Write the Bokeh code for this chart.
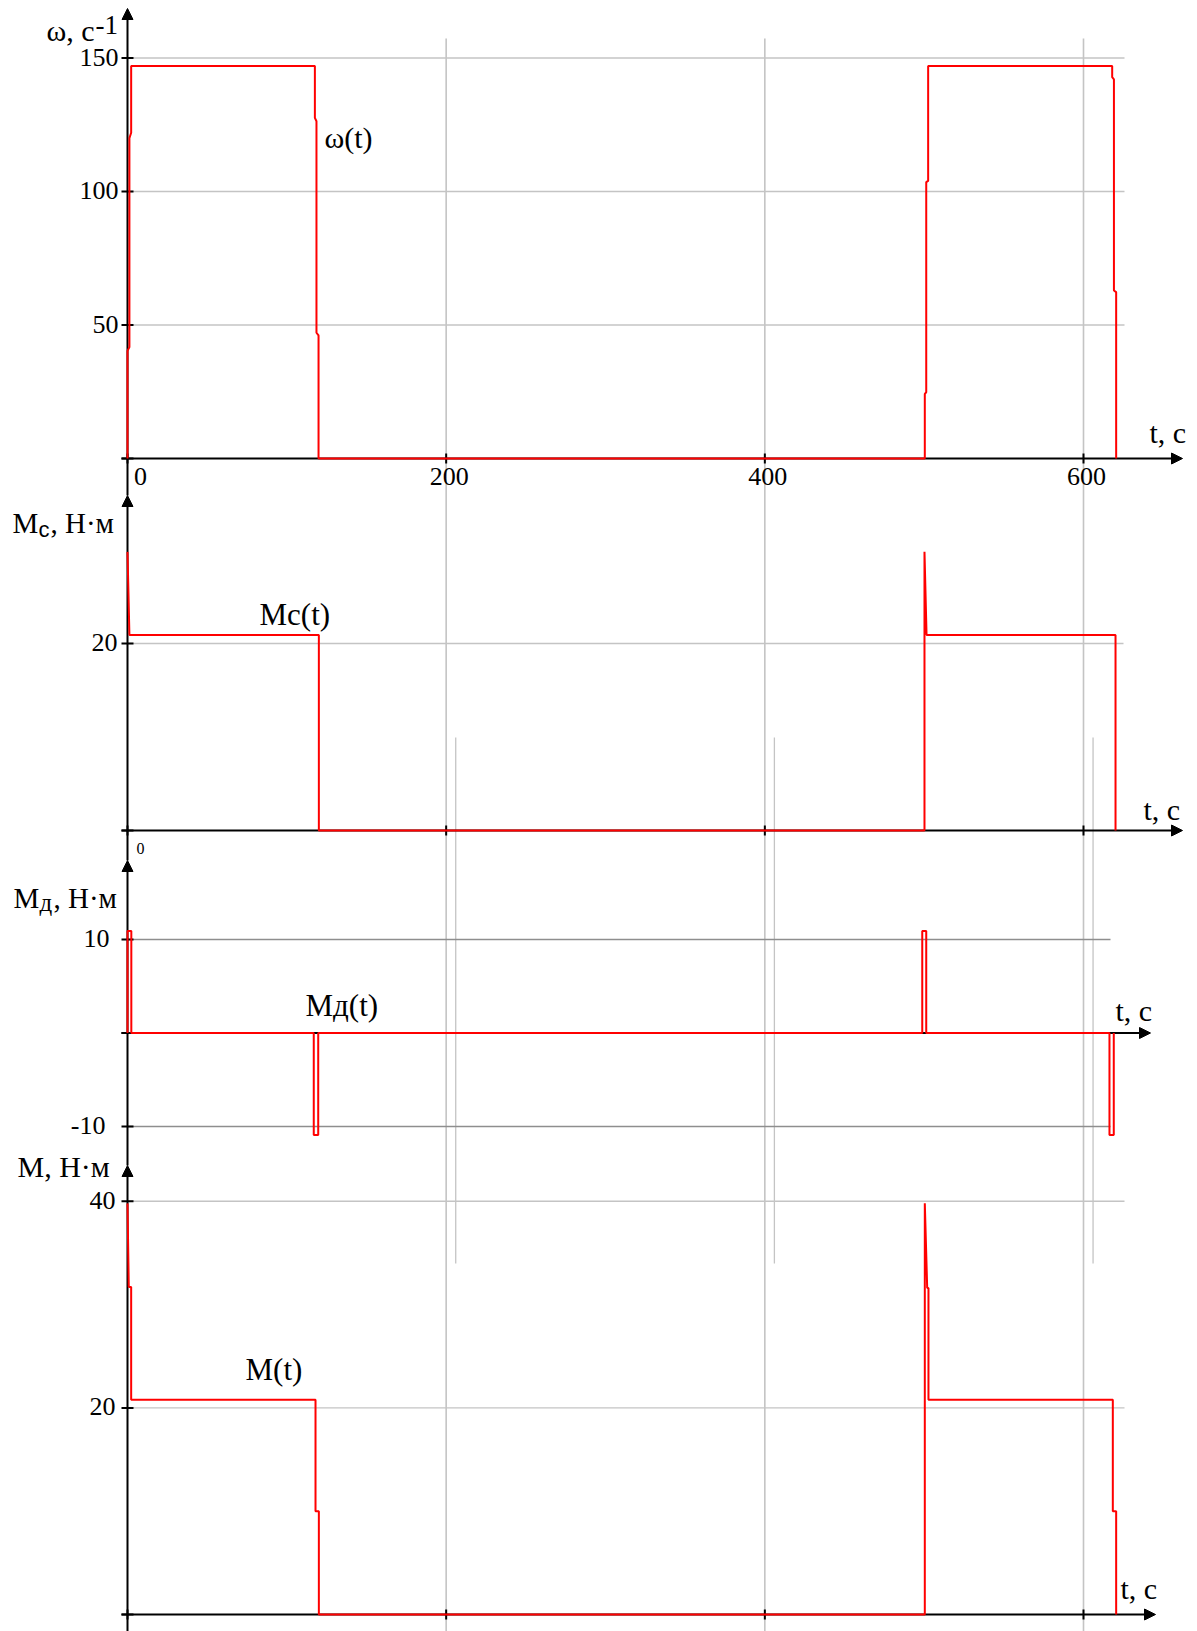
from bokeh.plotting import figure
from bokeh.models import Range1d, Arrow, NormalHead
from bokeh.core.properties import value
from bokeh.embed import file_html
from bokeh.resources import INLINE

# ---------------- data ----------------
x_ticks = [0, 200, 400, 600]
x_tick_labels = ["0", "200", "400", "600"]

omega_t = [0, 0, 1.2, 1.2, 2.3, 2.3, 117.6, 117.6, 118.6, 118.6, 119.9, 119.9,
           500.4, 500.4, 501.3, 501.3, 502.5, 502.5, 618.0, 618.0, 619.1, 619.1, 620.5, 620.5]
omega_v = [0, 40.3, 41.7, 120, 122, 147, 147, 127.6, 126.3, 47.1, 46.1, 0,
           0, 24.2, 24.8, 103.5, 104, 147, 147, 142.8, 142, 62.9, 62.3, 0]
omega_ticks = [50, 100, 150]

mc_t = [0, 1.2, 120.1, 120.1, 500.2, 500.2, 501.5, 620.1, 620.1]
mc_v = [29.8, 20.9, 20.9, 0, 0, 29.8, 20.9, 20.9, 0]
mc_ticks = [20]

md_t = [0, 0, 2.4, 2.4, 116.9, 116.9, 119.7, 119.7,
        498.8, 498.8, 501.3, 501.3, 616.3, 616.3, 619.0, 619.0]
md_v = [0, 10.9, 10.9, 0, 0, -10.9, -10.9, 0,
        0, 10.9, 10.9, 0, 0, -10.9, -10.9, 0]
md_ticks = [10, -10]

m_t = [0, 0.8, 2.3, 2.3, 118.0, 118.0, 120.1, 120.1,
       500.4, 500.4, 501.9, 502.7, 502.7, 618.4, 618.4, 620.5, 620.5]
m_v = [39.8, 31.7, 31.7, 20.8, 20.8, 10.0, 10.0, 0,
       0, 39.8, 31.6, 31.6, 20.8, 20.8, 10.0, 10.0, 0]
m_ticks = [20, 40]

ghost_grid_t = [206, 406, 606]

# ---------------- geometry ----------------
W, H = 1197, 1631
X0 = 127.0                 # pixel of t = 0
PX = (1083.0 - 127.0) / 600.0  # pixels per second


def tx(px):
    return (px - X0) / PX


# panel: (pixel row of zero, pixels per unit)
panels = {"w": (458.0, 2.67), "mc": (830.0, 9.35), "md": (1032.5, 9.35), "m": (1614.0, 10.33)}

p = figure(width=W, height=H, x_range=Range1d(tx(0), tx(W)), y_range=Range1d(H, 0),
           output_backend="svg", toolbar_location=None, min_border=0,
           x_axis_location=None, y_axis_location=None)
p.grid.visible = False
p.outline_line_color = None
p.background_fill_color = "white"
p.border_fill_color = "white"
p.extra_y_ranges = {k: Range1d((y0 - H) / k_, y0 / k_) for k, (y0, k_) in panels.items()}

SERIF = value("Liberation Serif")
SANS = value("Liberation Sans")
GRID = "#c4c4c4"
GRID_D = "#8e8e8e"

# ---------------- grid ----------------
p.segment(x0=x_ticks[1:], y0=38, x1=x_ticks[1:], y1=H, line_color=GRID, line_width=1.6)
p.segment(x0=ghost_grid_t, y0=737, x1=ghost_grid_t, y1=1263, line_color=GRID, line_width=1.3)
p.segment(x0=0, y0=omega_ticks, x1=tx(1124), y1=omega_ticks, y_range_name="w", line_color=GRID, line_width=1.4)
p.segment(x0=0, y0=mc_ticks, x1=tx(1123), y1=mc_ticks, y_range_name="mc", line_color=GRID, line_width=1.4)
p.segment(x0=0, y0=md_ticks, x1=tx(1110), y1=md_ticks, y_range_name="md", line_color=GRID_D, line_width=1.4)
p.segment(x0=0, y0=m_ticks, x1=tx(1124), y1=m_ticks, y_range_name="m", line_color=GRID, line_width=1.4)

# ---------------- axes ----------------
x_axes = [(458, 1182), (830, 1182), (1032.5, 1150), (1614, 1155)]
y_axes = [(8, 495), (495, 860), (860, 1165), (1165, H)]
for yy, xe in x_axes:
    p.segment(x0=tx(121), y0=yy, x1=tx(xe - 4), y1=yy, line_color="black", line_width=2)
    p.add_layout(Arrow(end=NormalHead(size=11, fill_color="black", line_color="black"),
                       x_start=tx(xe - 8), y_start=yy, x_end=tx(xe), y_end=yy,
                       line_color="black", line_width=2))
for yt, yb in y_axes:
    p.segment(x0=0, y0=yt + 4, x1=0, y1=yb, line_color="black", line_width=2)
    p.add_layout(Arrow(end=NormalHead(size=11, fill_color="black", line_color="black"),
                       x_start=0, y_start=yt + 8, x_end=0, y_end=yt,
                       line_color="black", line_width=2))

# y ticks
for name, ticks in [("w", [0] + omega_ticks), ("mc", [0] + mc_ticks), ("md", [0] + md_ticks), ("m", [0] + m_ticks)]:
    p.segment(x0=tx(121), y0=ticks, x1=tx(133), y1=ticks, y_range_name=name, line_color="black", line_width=2)
# x ticks
for yy in (458, 830, 1614):
    p.segment(x0=x_ticks, y0=yy - 5, x1=x_ticks, y1=yy + 5, line_color="black", line_width=2)

# ---------------- curves ----------------
RED = "#ff0000"
p.line(omega_t, omega_v, y_range_name="w", line_color=RED, line_width=2)
p.line(mc_t, mc_v, y_range_name="mc", line_color=RED, line_width=2)
p.line(md_t, md_v, y_range_name="md", line_color=RED, line_width=2)
p.line(m_t, m_v, y_range_name="m", line_color=RED, line_width=2)

# ---------------- tick labels ----------------
TK = "26px"
p.text(x=x_ticks, y=476, text=x_tick_labels, x_offset=[13, 3, 3, 3], text_font=SERIF,
       text_font_size=TK, text_align="center", text_baseline="middle")
p.text(x=0, y=omega_ticks, text=[str(v) for v in omega_ticks], y_range_name="w", x_offset=-9, y_offset=-1,
       text_font=SERIF, text_font_size=TK, text_align="right", text_baseline="middle")
p.text(x=0, y=mc_ticks, text=[str(v) for v in mc_ticks], y_range_name="mc", x_offset=-10, y_offset=-1,
       text_font=SERIF, text_font_size=TK, text_align="right", text_baseline="middle")
p.text(x=0, y=md_ticks, text=[str(v) for v in md_ticks], y_range_name="md", x_offset=[-18, -22], y_offset=-1,
       text_font=SERIF, text_font_size=TK, text_align="right", text_baseline="middle")
p.text(x=0, y=m_ticks, text=[str(v) for v in m_ticks], y_range_name="m", x_offset=-12, y_offset=-1,
       text_font=SERIF, text_font_size=TK, text_align="right", text_baseline="middle")
p.text(x=[0], y=[848], text=["0"], x_offset=13, text_font=SERIF, text_font_size="16px",
       text_align="center", text_baseline="middle")


# ---------------- axis titles and curve names ----------------
def lab(px_x, px_y, s, size="31px", font=SERIF, align="left"):
    p.text(x=[tx(px_x)], y=[px_y], text=[s], text_font=font, text_font_size=size,
           text_align=align, text_baseline="middle", text_color="black")


lab(46, 30, "ω, с", size="30px")
lab(95, 24, "-1", size="27px")
lab(1149, 432, "t, c", size="30px")
lab(324, 137, "ω(t)", size="30px")

lab(12, 522, "М", size="29px")
lab(38, 529, "с", size="22px", font=SANS)
lab(50, 522, ", Н·м", size="29px")
lab(259, 614, "Мс(t)")
lab(1143, 809, "t, c", size="30px")

lab(13, 897, "М", size="29px")
lab(39, 902, "д", size="25px")
lab(53, 897, ", Н·м", size="29px")
lab(305, 1005, "Мд(t)")
lab(1115, 1010, "t, c", size="30px")

lab(17, 1166, "М, Н·м", size="30px")
lab(245, 1369, "М(t)")
lab(1120, 1588, "t, c", size="30px")

open("out.html", "w").write(file_html(p, INLINE))
